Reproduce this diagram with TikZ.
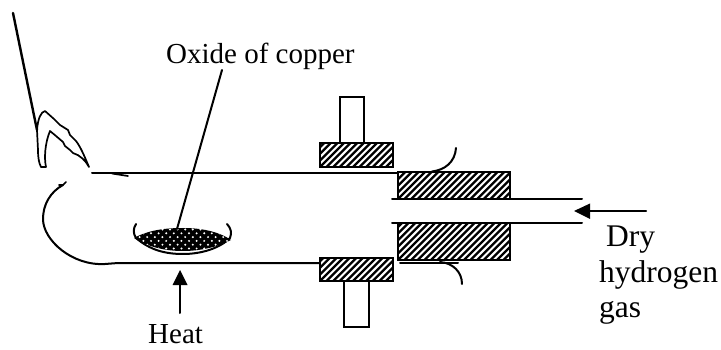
\documentclass[tikz,border=0pt]{standalone}
\usepackage{fontspec}
\setmainfont{Liberation Serif}
\begin{document}
\begin{tikzpicture}[x=1pt,y=-1pt,
  ln/.style={line width=2pt,line cap=round,line join=round},
  thin line/.style={line width=1.7pt,line cap=round,line join=round},
  plainbox/.style={draw,line width=2pt,fill=white,inner sep=0pt},
  hatchbox/.style={draw,line width=2pt,inner sep=0pt,path picture={
    \foreach \k in {-20,...,30}{
      \draw[line width=2.3pt] ([xshift=\k*6.6pt]path picture bounding box.south west) -- ++(40pt,40pt);
    }}}, 
  lbl/.style={anchor=base west,inner sep=0pt,font=\fontsize{29}{29}\selectfont},
  lblb/.style={anchor=base west,inner sep=0pt,font=\fontsize{31.5}{31.5}\selectfont}
]
\useasboundingbox (0,0) rectangle (721,350);
% pipe
\draw[ln] (92,173.5) -- (398,173.5);
\draw[thin line] (112,173.5) -- (128,176);
\draw[ln] (63,185) .. controls (50,192) and (43,205) .. (43,219)
  .. controls (43,240) and (72,266) .. (105,264)
  .. controls (112,263.5) and (116,263) .. (122,263) -- (320,263);
\draw[thin line] (59,185) -- (63,185) -- (66,182);
% stick and clamp
\draw[line width=2.4pt,line cap=round] (13,13) -- (37,130);
\draw[thin line] (37,130) -- (38,150) .. controls (38,158) and (39,163) .. (41,167)
  -- (46,167) .. controls (44,158) and (45,143) .. (50,131)
  -- (56,136) -- (63,142) -- (65,146) -- (70,150) -- (73,153) .. controls (80,155) and (86,161) .. (89,167)
  .. controls (84,155) and (80,146) .. (76,141) -- (70,135) -- (68,130) -- (60,125) -- (54,119) -- (45,111)
  .. controls (41,112) and (38,118) .. (37,130);
% inner tube
\draw[ln] (392,199.5) -- (582,199.5);
\draw[ln] (392,223) -- (582,223);
% blocks
\node[hatchbox,minimum width=112pt,minimum height=27pt] (bigtop) at (454,185.5) {};
\node[hatchbox,minimum width=112pt,minimum height=37pt] (bigbot) at (454,241.5) {};
\node[plainbox,minimum width=24pt,minimum height=46pt] (stoptop) at (352,120) {};
\node[hatchbox,minimum width=73pt,minimum height=24pt] (smalltop) at (356.5,155) {};
\node[plainbox,minimum width=25pt,minimum height=46pt] (stopbot) at (356.5,304) {};
\node[hatchbox,minimum width=73pt,minimum height=23pt] (smallbot) at (356.5,269.5) {};
\draw[ln] (400,263) -- (458,263);
% curls
\draw[ln] (432,171.5) .. controls (445,170) and (455,162) .. (456,148);
\draw[ln] (440,262) .. controls (453,263) and (462,272) .. (462,284);
% dish
\draw[ln] (136,224) .. controls (133,229) and (133,233) .. (136,238)
  .. controls (150,250) and (165,254) .. (183,254) .. controls (202,254) and (220,248) .. (230,238)
  .. controls (232,233) and (231,228) .. (227,224);
\begin{scope}
  \clip (134,238) .. controls (150,229) and (170,228) .. (183,228) .. controls (200,228) and (218,231) .. (231,240)
     .. controls (218,247) and (200,251) .. (183,251) .. controls (165,251) and (148,247) .. (134,238) -- cycle;
  \fill (130,225) rectangle (235,255);
  \foreach \r in {0,...,6}{
    \foreach \c in {0,...,14}{
      \pgfmathsetmacro{\xx}{132+\c*7.6+mod(\r,2)*3.8}
      \pgfmathsetmacro{\yy}{229.5+\r*3.8}
      \fill[white] (\xx,\yy) circle (1.1pt);
    }
  }
\end{scope}
% labels
\node[lbl] (oxide) at (166,64) {Oxide of copper};
\node[lbl] (heat) at (148,343.5) {Heat};
\node[lblb] (dry) at (606,247) {Dry};
\node[lblb] (hyd) at (599,282) {hydrogen};
\node[lblb] (gas) at (599,317) {gas};
% connectors
\coordinate (leadtop) at (222,70);
\coordinate (leadend) at (177,229);
\draw[ln] (leadtop) -- (leadend);
\coordinate (heatfrom) at (180,313);
\coordinate (heatto) at (180,270);
\fill (heatto) -- (172.5,285) -- (187.5,285) -- cycle;
\draw[ln] (heatfrom) -- (180,284);
\coordinate (gasfrom) at (646,211);
\coordinate (gasto) at (574,211);
\fill (gasto) -- (590,203.5) -- (590,219) -- cycle;
\draw[line width=2.4pt,line cap=round] (gasfrom) -- (589,211);
\end{tikzpicture}
\end{document}
